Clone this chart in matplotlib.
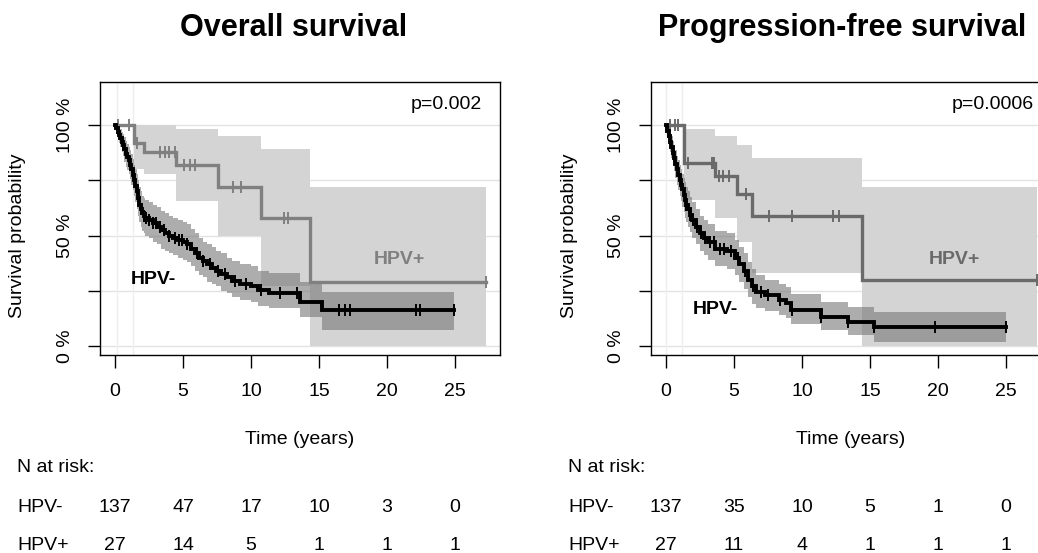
import numpy as np
import matplotlib
matplotlib.use("Agg")
import matplotlib.pyplot as plt

plt.rcParams['font.family'] = ['Liberation Sans', 'DejaVu Sans']

# ---- Overall survival ----
os_neg_t = [0, 0.1, 0.2, 0.3, 0.4, 0.5, 0.6, 0.7, 0.8, 0.9, 1.0, 1.1, 1.2, 1.3, 1.4, 1.5, 1.6, 1.7, 1.8, 1.9,
            2.0, 2.1, 2.2, 2.5, 2.8, 3.1, 3.4, 3.7, 4.0, 4.3, 4.6,
            5.0, 5.3, 5.6, 5.9, 6.2, 6.5, 6.8, 7.1, 7.4, 7.8, 8.2, 8.6, 9.2, 10.0, 10.5, 11.3, 13.6, 15.2, 24.9]
os_neg_s = [1.0, .985, .97, .955, .94, .925, .91, .89, .87, .855, .84, .82, .80, .775, .75, .725, .70, .67, .64, .62,
            .60, .59, .58, .57, .555, .54, .525, .51, .50, .49, .48,
            .47, .46, .44, .42, .40, .385, .37, .355, .34, .325, .31, .295, .28, .27, .255, .24, .20, .163, .163]
os_neg_up = [1.0, 1.0, 1.0, .99, .98, .97, .96, .945, .93, .915, .90, .885, .87, .845, .82, .80, .78, .75, .72, .70,
             .68, .67, .66, .65, .64, .63, .61, .60, .59, .58, .57,
             .56, .55, .53, .51, .49, .47, .46, .45, .43, .42, .40, .385, .37, .36, .34, .33, .29, .245, .245]
os_neg_lo = [1.0, .96, .94, .92, .90, .88, .86, .835, .81, .795, .78, .755, .73, .705, .68, .65, .62, .59, .56, .54,
             .52, .51, .50, .49, .47, .46, .44, .43, .42, .41, .40,
             .39, .38, .36, .34, .32, .31, .29, .28, .27, .25, .24, .22, .21, .20, .18, .17, .13, .07, .07]
os_neg_cens = [1.9, 2.1, 2.3, 2.5, 2.8, 3.0, 3.3, 3.6, 4.0, 4.4, 4.7, 4.9, 5.3, 6.0, 6.5, 7.0, 7.6, 8.1, 8.8,
               9.6, 10.7, 12.1, 13.4, 16.5, 16.9, 17.3, 22.1, 22.4, 24.9]

os_pos_t = [0, 1.4, 2.1, 4.5, 7.6, 10.7, 14.3, 27.3]
os_pos_s = [1.0, .92, .88, .82, .72, .58, .29, .29]
os_pos_up = [1.0, 1.0, 1.0, .98, .95, .89, .72, .72]
os_pos_lo = [1.0, .80, .78, .655, .50, .27, 0, 0]
os_pos_cens = [0.2, 1.0, 1.6, 3.3, 3.7, 4.0, 4.4, 5.1, 5.5, 5.9, 8.7, 9.3, 12.4, 12.7, 27.3]

# ---- Progression-free survival ----
pfs_neg_t = [0, 0.1, 0.2, 0.3, 0.4, 0.5, 0.6, 0.7, 0.8, 0.9, 1.0, 1.1, 1.2, 1.3, 1.4, 1.5, 1.6, 1.75, 1.9,
             2.2, 2.5, 2.8, 3.1, 3.6, 4.5, 5.1, 5.4, 5.7, 6.0,
             6.3, 6.6, 7.3, 8.3, 8.8, 9.2, 11.4, 13.4, 15.3, 25.0]
pfs_neg_s = [1.0, .975, .95, .925, .90, .875, .85, .825, .80, .775, .75, .73, .71, .685, .66, .64, .62, .595, .57,
             .54, .51, .49, .47, .44, .43, .40, .37, .34, .30,
             .27, .245, .23, .21, .195, .163, .13, .11, .087, .087]
pfs_neg_up = [1.0, .99, .98, .965, .95, .93, .91, .885, .86, .84, .82, .80, .78, .76, .74, .72, .70, .675, .65,
              .62, .59, .57, .55, .52, .51, .48, .45, .42, .38,
              .35, .32, .30, .28, .265, .235, .20, .175, .155, .155]
pfs_neg_lo = [1.0, .94, .91, .88, .85, .82, .79, .76, .73, .705, .68, .655, .63, .605, .58, .56, .54, .515, .49,
              .46, .43, .41, .39, .36, .35, .32, .29, .26, .22,
              .19, .17, .16, .14, .125, .10, .07, .05, .02, .02]
pfs_neg_cens = [1.5, 1.8, 2.0, 2.3, 2.6, 2.9, 3.2, 3.5, 4.0, 4.3, 4.8, 5.3, 5.8, 6.4, 7.0, 7.5, 8.4, 9.3,
                11.4, 13.4, 15.3, 19.8, 25.0]

pfs_pos_t = [0, 1.3, 3.6, 5.2, 6.3, 14.4, 27.3]
pfs_pos_s = [1.0, .83, .77, .69, .59, .30, .30]
pfs_pos_up = [1.0, .98, .95, .91, .85, .72, .72]
pfs_pos_lo = [1.0, .66, .58, .47, .33, 0, 0]
pfs_pos_cens = [0.3, 0.7, 0.9, 1.6, 3.4, 3.5, 3.9, 4.2, 4.6, 5.9, 7.6, 9.3, 12.3, 12.7, 27.3]

risk_times = [0, 5, 10, 15, 20, 25]
os_risk_neg = [137, 47, 17, 10, 3, 0]
os_risk_pos = [27, 14, 5, 1, 1, 1]
pfs_risk_neg = [137, 35, 10, 5, 1, 0]
pfs_risk_pos = [27, 11, 4, 1, 1, 1]

W, H = 1038, 553
fig = plt.figure(figsize=(W / 100, H / 100), dpi=100)


def km(ax, t, s, up, lo, cens, color, band, band_alpha, lw, z):
    t = np.array(t)
    s = np.array(s)
    ax.fill_between(t, lo, up, step='post', color=band, alpha=band_alpha, lw=0, zorder=z)
    ax.step(t, s, where='post', color=color, lw=lw, zorder=z + 2, solid_joinstyle='miter')
    idx = np.searchsorted(t, cens, side='right') - 1
    ax.plot(cens, s[idx], ls='none', marker='|', ms=8, mew=1.4, color=color, zorder=z + 2)


def panel(left_px, title, title_x, pval, neg, pos, pos_color, lab_neg, lab_pos, risk_neg, risk_pos, vlines):
    ax = fig.add_axes([left_px / W, 1 - 355 / H, 400 / W, 273 / H])
    ax.set_xlim(-1.1, 28.3)
    ax.set_ylim(-0.041, 1.195)
    for yy in [0, .25, .5, .75, 1.0]:
        ax.axhline(yy, color='#e2e2e2', lw=1, zorder=0)
    for xx in vlines:
        ax.axvline(xx, color='#eeeeee', lw=1, zorder=0)
    km(ax, *pos, color=pos_color, band='#d4d4d4', band_alpha=1.0, lw=2.4, z=1)
    km(ax, *neg, color='black', band='#777777', band_alpha=0.6, lw=2.8, z=2)
    ax.text(27.0, 1.095, pval, ha='right', va='center', fontsize=14)
    ax.text(lab_neg[0], lab_neg[1], 'HPV-', fontsize=14, fontweight='bold', ha='center', va='center', zorder=6)
    ax.text(lab_pos[0], lab_pos[1], 'HPV+', fontsize=14, fontweight='bold', ha='center', va='center',
            color=pos_color, zorder=6)
    ax.set_xticks(risk_times)
    ax.set_yticks([0, .25, .5, .75, 1.0])
    ax.set_yticklabels(['0 %', '', '50 %', '', '100 %'], rotation=90, va='center')
    ax.tick_params(axis='both', length=9, width=1, labelsize=14, direction='out')
    ax.tick_params(axis='x', pad=11)
    ax.tick_params(axis='y', pad=10)
    for sp in ax.spines.values():
        sp.set_linewidth(1.0)
    fig.text(title_x / W, 1 - 28 / H, title, ha='center', va='center', fontsize=22, fontweight='bold')
    fig.text((left_px - 82) / W, 1 - 236 / H, 'Survival probability', rotation=90,
             ha='center', va='center', fontsize=14)
    fig.text((left_px + 200) / W, 1 - 440 / H, 'Time (years)', ha='center', va='center', fontsize=14)
    fig.text((left_px - 83) / W, 1 - 468 / H, 'N at risk:', ha='left', va='center', fontsize=14)
    fig.text((left_px - 83) / W, 1 - 508 / H, 'HPV-', ha='left', va='center', fontsize=14)
    fig.text((left_px - 83) / W, 1 - 545 / H, 'HPV+', ha='left', va='center', fontsize=14)
    # risk table numbers placed under the ticks
    for tt, a, b in zip(risk_times, risk_neg, risk_pos):
        xf = fig.transFigure.inverted().transform(ax.transData.transform((tt, 0)))[0]
        fig.text(xf, 1 - 508 / H, str(a), ha='center', va='center', fontsize=14)
        fig.text(xf, 1 - 545 / H, str(b), ha='center', va='center', fontsize=14)
    return ax


panel(100, 'Overall survival', 294, 'p=0.002',
      (os_neg_t, os_neg_s, os_neg_up, os_neg_lo, os_neg_cens),
      (os_pos_t, os_pos_s, os_pos_up, os_pos_lo, os_pos_cens),
      '#808080', (2.8, 0.30), (20.9, 0.39), os_risk_neg, os_risk_pos, [0.15, 1.3])
panel(651, 'Progression-free survival', 842, 'p=0.0006',
      (pfs_neg_t, pfs_neg_s, pfs_neg_up, pfs_neg_lo, pfs_neg_cens),
      (pfs_pos_t, pfs_pos_s, pfs_pos_up, pfs_pos_lo, pfs_pos_cens),
      '#6a6a6a', (3.6, 0.163), (21.2, 0.39), pfs_risk_neg, pfs_risk_pos, [0.0, 1.2])

fig.savefig('out.png', dpi=100, facecolor='white')
